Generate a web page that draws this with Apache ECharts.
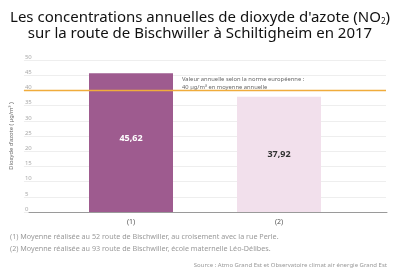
<!DOCTYPE html>
<html><head><meta charset="utf-8">
<script src="https://cdn.jsdelivr.net/npm/echarts@6/dist/echarts.min.js"></script>
<style>html,body{margin:0;padding:0;background:#fff}#c{width:400px;height:273px}</style>
</head><body><div id="c"></div>
<script>
const categories = ['(1)', '(2)'];
const values = [45.62, 37.92];
const valueLabels = ['45,62', '37,92'];
const barColors = ['#9e5b8f', '#f2e0ec'];
const labelColors = ['#ffffff', '#333333'];
const labelOffsets = [-4, 0];
const normValue = 40;
const yTicks = {min: 0, max: 50, interval: 5};

const F = 'Noto Sans';
const chart = echarts.init(document.getElementById('c'), null, {renderer: 'canvas'});
chart.setOption({
  animation: false,
  backgroundColor: '#fff',
  title: {
    text: "Les concentrations annuelles de dioxyde d'azote (NO{s|2})\nsur la route de Bischwiller à Schiltigheim en 2017",
    left: 'center', top: 5,
    textStyle: {fontFamily: F, fontSize: 15, fontWeight: 'normal', color: '#111', lineHeight: 16,
      rich: {s: {fontFamily: F, fontSize: 8, verticalAlign: 'bottom', padding: [8,0,0,0], color: '#111'}}}
  },
  grid: [
    {left: 23, right: 14, top: 60, bottom: 61},
    {left: 29, right: 13, top: 60, bottom: 61},
    {left: 57, right: 47, top: 60, bottom: 61}
  ],
  xAxis: [
    {gridIndex: 0, type: 'value', min: 0, max: 1, show: false},
    {gridIndex: 1, type: 'value', min: 0, max: 1, axisLabel: {show: false}, axisTick: {show: false}, splitLine: {show: false},
      axisLine: {show: true, lineStyle: {color: '#9a9a9a', width: 1}}},
    {gridIndex: 2, type: 'category', data: categories, axisLine: {show: false}, axisTick: {show: false},
      axisLabel: {color: '#555', fontFamily: F, fontSize: 7, margin: 6}}
  ],
  yAxis: [
    {gridIndex: 0, type: 'value', min: yTicks.min, max: yTicks.max, interval: yTicks.interval,
      axisLine: {show: false}, axisTick: {show: false},
      axisLabel: {inside: true, margin: 1, verticalAlign: 'bottom', color: '#aaa', fontFamily: F, fontSize: 6},
      splitLine: {lineStyle: {color: '#eeeeee', width: 1}},
      name: 'Dioxyde d\u2019azote ( µg/m³ )', nameLocation: 'middle', nameGap: 6, nameRotate: 90,
      nameTextStyle: {color: '#666', fontFamily: F, fontSize: 5.8}},
    {gridIndex: 1, type: 'value', min: yTicks.min, max: yTicks.max, show: false},
    {gridIndex: 2, type: 'value', min: yTicks.min, max: yTicks.max, show: false}
  ],
  series: [
    {type: 'line', xAxisIndex: 0, yAxisIndex: 0, data: [[0, normValue], [1, normValue]], symbol: 'none',
      lineStyle: {color: '#f0ac3c', width: 1.5}, z: 5, silent: true},
    {type: 'bar', xAxisIndex: 2, yAxisIndex: 2, barWidth: 84,
      data: values.map((v, i) => ({value: v, itemStyle: {color: barColors[i]},
        label: {show: true, position: 'inside', formatter: valueLabels[i], color: labelColors[i],
          fontFamily: F, fontSize: 9, fontWeight: 'bold', offset: [0, labelOffsets[i]]}})),
      z: 2}
  ],
  graphic: [
    {type: 'text', left: 182, top: 75, style: {text: 'Valeur annuelle selon la norme européenne :\n40 µg/m³ en moyenne annuelle',
      fill: '#666', font: '5.8px "Noto Sans"', lineHeight: 8}},
    {type: 'text', left: 10, top: 233, style: {text: '(1) Moyenne réalisée au 52 route de Bischwiller, au croisement avec la rue Perle.',
      fill: '#999', font: '7.2px "Noto Sans"'}},
    {type: 'text', left: 10, top: 245, style: {text: '(2) Moyenne réalisée au 93 route de Bischwiller, école maternelle Léo-Délibes.',
      fill: '#999', font: '7.2px "Noto Sans"'}},
    {type: 'text', right: 13, top: 262, style: {text: 'Source : Atmo Grand Est et Observatoire climat air énergie Grand Est',
      fill: '#999', font: '6px "Noto Sans"'}}
  ]
});
</script></body></html>
